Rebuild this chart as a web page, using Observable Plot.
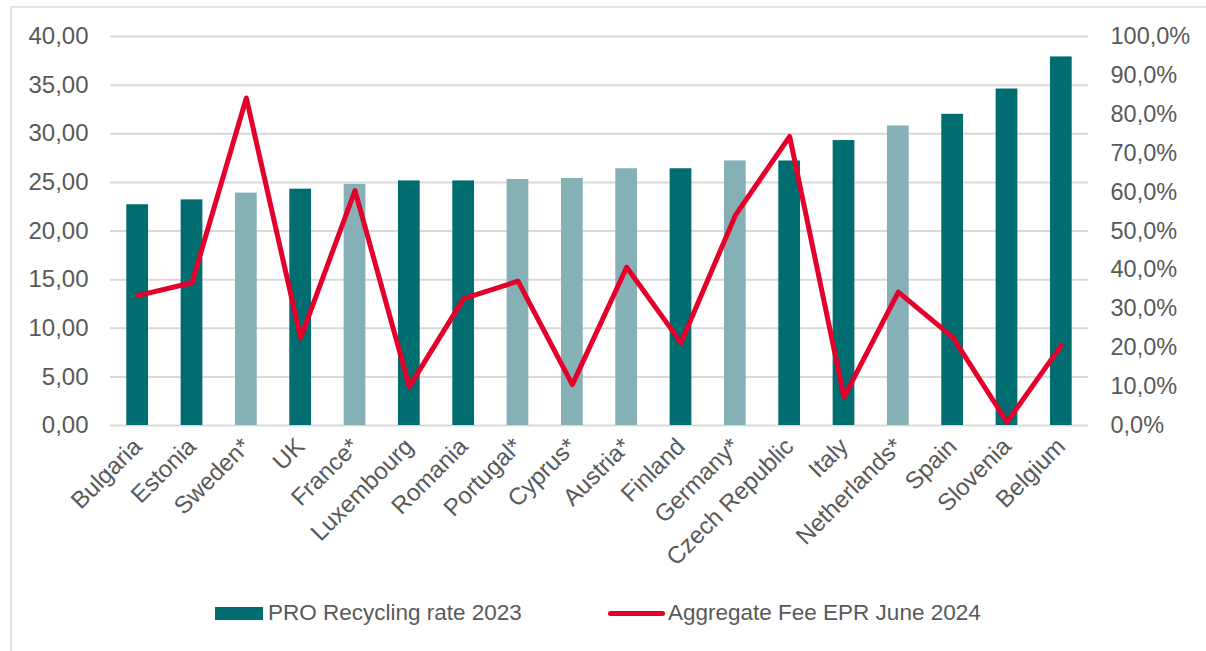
<!DOCTYPE html>
<html>
<head>
<meta charset="utf-8">
<script src="https://cdn.jsdelivr.net/npm/d3@7"></script>
<script src="https://cdn.jsdelivr.net/npm/@observablehq/plot@0.6"></script>
<style>
  html, body { margin: 0; padding: 0; background: #fff; }
  body { width: 1206px; height: 651px; position: relative; overflow: hidden; font-family: "Liberation Sans", Arial, sans-serif; }
  #frame { position: absolute; left: 10px; top: 6px; width: 1300px; height: 700px; border-left: 2px solid #e3e3e3; border-top: 2px solid #e3e3e3; pointer-events: none; }
  #chart { position: absolute; left: 0; top: 0; }
  #legend { position: absolute; top: 596px; left: 0; width: 1206px; height: 34px; font-size: 22.5px; color: #595959; }
  .item { position: absolute; top: 0; display: flex; align-items: center; height: 34px; }
  .sw-bar { width: 48px; height: 13px; background: #006e70; margin-right: 5px; }
  .sw-line { width: 57px; height: 5px; background: #e4002b; border-radius: 3px; margin-right: 3px; }
</style>
</head>
<body>
<div id="chart"></div>
<div id="frame"></div>
<div id="legend">
  <div class="item" style="left:215px"><div class="sw-bar"></div><span>PRO Recycling rate 2023</span></div>
  <div class="item" style="left:608px"><div class="sw-line"></div><span>Aggregate Fee EPR June 2024</span></div>
</div>
<script>
const countries = ["Bulgaria","Estonia","Sweden*","UK","France*","Luxembourg","Romania","Portugal*","Cyprus*","Austria*","Finland","Germany*","Czech Republic","Italy","Netherlands*","Spain","Slovenia","Belgium"];
const recyclingRate = [22.7,23.2,23.9,24.3,24.8,25.15,25.15,25.3,25.4,26.4,26.4,27.2,27.2,29.3,30.8,32.0,34.6,37.9];
const aggregateFee = [33.4,36.7,84.2,22.5,60.4,10.0,32.6,37.1,10.5,40.7,21.3,54.0,74.3,7.3,34.3,22.7,0.9,20.6];
const leftTicks = [0,5,10,15,20,25,30,35,40];
const rightTicks = [0,10,20,30,40,50,60,70,80,90,100];

const data = countries.map((c, i) => ({
  country: c,
  rate: recyclingRate[i],
  fee: aggregateFee[i],
  starred: c.endsWith("*")
}));

const Y_MAX = 40;
const fmtLeft = d => d.toFixed(2).replace(".", ",");
const fmtRight = d => d.toFixed(1).replace(".", ",") + "%";

const chart = Plot.plot({
  width: 1206,
  height: 580,
  marginTop: 36,
  marginBottom: 155,
  marginLeft: 110,
  marginRight: 118,
  style: { fontFamily: "Liberation Sans, Arial, sans-serif", color: "#595959", background: "transparent" },
  x: { domain: countries, paddingInner: 0.6, paddingOuter: 0.3, round: false, label: null },
  y: { domain: [0, Y_MAX], label: null },
  marks: [
    Plot.gridY(leftTicks, { stroke: "#d9d9d9", strokeOpacity: 1, strokeWidth: 2 }),
    Plot.barY(data, {
      x: "country",
      y: "rate",
      fill: d => d.starred ? "#85b0b6" : "#006e70"
    }),
    Plot.lineY(data, {
      x: "country",
      y: d => d.fee / 100 * Y_MAX,
      stroke: "#e4002b",
      strokeWidth: 5,
      strokeLinejoin: "round",
      strokeLinecap: "round"
    }),
    Plot.axisY(leftTicks, {
      anchor: "left",
      tickSize: 0,
      tickPadding: 22,
      tickFormat: fmtLeft,
      fontSize: 24,
      fill: "#595959",
      label: null
    }),
    Plot.axisY(rightTicks.map(t => t / 100 * Y_MAX), {
      anchor: "right",
      tickSize: 0,
      tickPadding: 22,
      tickFormat: d => fmtRight(d / Y_MAX * 100),
      fontSize: 23.5,
      fill: "#595959",
      label: null
    }),
    Plot.axisX({
      tickSize: 0,
      tickPadding: 17,
      tickRotate: -45,
      fontSize: 24,
      fill: "#595959",
      label: null
    })
  ]
});
document.getElementById("chart").appendChild(chart);
</script>
</body>
</html>
